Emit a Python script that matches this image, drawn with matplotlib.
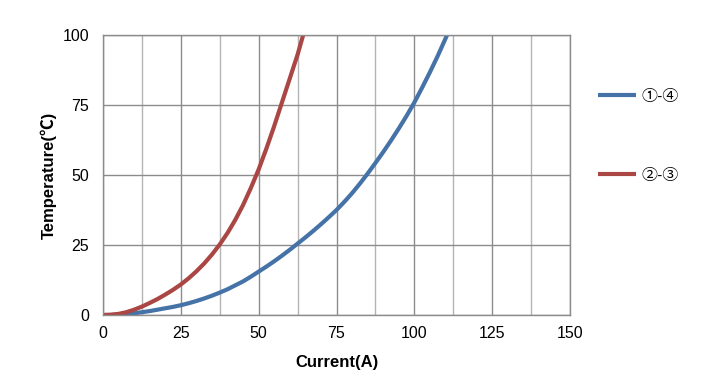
import matplotlib
matplotlib.use('Agg')
import matplotlib.pyplot as plt
from matplotlib.ticker import MultipleLocator

# values
x_blue = [0, 2.5, 5, 7.5, 10, 12.5, 15, 17.5, 20, 22.5, 25, 27.5, 30, 32.5,
          35, 37.5, 40, 42.5, 45, 47.5, 50, 52.5, 55, 57.5, 60, 62.5, 65,
          67.5, 70, 72.5, 75, 77.5, 80, 82.5, 85, 87.5, 90, 92.5, 95, 97.5,
          100, 102.5, 105, 107.5, 110, 110.5]
y_blue = [0, 0.0, 0.15, 0.35, 0.6, 1.0, 1.4, 1.9, 2.4, 2.9, 3.5, 4.2, 5.0,
          5.9, 6.9, 8.0, 9.2, 10.6, 12.0, 13.7, 15.5, 17.3, 19.2, 21.2, 23.3,
          25.5, 27.7, 30.0, 32.4, 34.9, 37.5, 40.4, 43.5, 46.9, 50.5, 54.3,
          58.2, 62.3, 66.6, 71.1, 75.9, 81.2, 86.7, 92.5, 98.7, 100]
x_red = [0, 2.5, 5, 7.5, 10, 12.5, 15, 17.5, 20, 22.5, 25, 27.5, 30, 32.5,
         35, 37.5, 40, 42.5, 45, 47.5, 50, 52.5, 55, 57.5, 60, 62.5, 64.3]
y_red = [0, 0.1, 0.4, 1.0, 1.9, 3.0, 4.3, 5.7, 7.3, 9.0, 10.9, 13.1, 15.6,
         18.4, 21.6, 25.2, 29.3, 34.0, 39.3, 45.4, 52.0, 59.5, 67.5, 76.0,
         84.5, 93.0, 100]
labels = ['①-④', '②-③']
blue = '#4572a7'
red = '#aa4643'

plt.rcParams['font.family'] = ['Liberation Sans', 'Noto Sans CJK JP', 'DejaVu Sans']

fig = plt.figure(figsize=(7.09, 3.9), dpi=100)
ax = fig.add_axes([103/709, 75/390, 467/709, 280/390])

l1, = ax.plot(x_blue, y_blue, color=blue, lw=3.0, solid_capstyle='butt')
l2, = ax.plot(x_red, y_red, color=red, lw=3.0, solid_capstyle='butt')

ax.set_xlim(0, 150)
ax.set_ylim(0, 100)
ax.xaxis.set_major_locator(MultipleLocator(25))
ax.xaxis.set_minor_locator(MultipleLocator(12.5))
ax.yaxis.set_major_locator(MultipleLocator(25))
ax.grid(which='major', color='#8c8c8c', lw=1.0)
ax.grid(which='minor', axis='x', color='#b4b4b4', lw=1.0)
ax.set_axisbelow(True)
for s in ax.spines.values():
    s.set_color('#8c8c8c')
    s.set_linewidth(1.0)
ax.tick_params(which='both', length=0, labelsize=11.5, pad=8, colors='#000000')
ax.tick_params(axis='y', pad=10)

ax.set_xlabel('Current(A)', fontsize=12, fontweight='bold', labelpad=10)
ax.set_ylabel('Temperature(℃)', fontsize=12, fontweight='bold', labelpad=4)

fig.legend([l1, l2], labels, loc='upper left', bbox_to_anchor=(598/709, 1 - 89/390),
           frameon=False, fontsize=11.5, handlelength=2.4, handletextpad=0.35,
           labelspacing=4.0, borderpad=0, borderaxespad=0)

fig.savefig('out.png', dpi=100)
